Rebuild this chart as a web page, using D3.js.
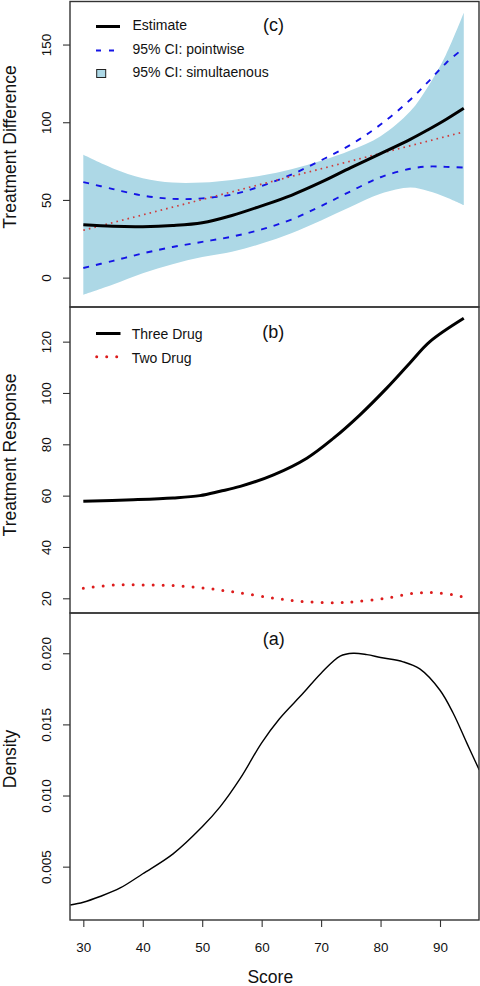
<!DOCTYPE html>
<html>
<head>
<meta charset="utf-8">
<script src="https://cdn.jsdelivr.net/npm/d3@7/dist/d3.min.js"></script>
<style>
  html, body { margin: 0; padding: 0; background: #fff; }
  svg { display: block; }
  text { font-family: "Liberation Sans", Arial, Helvetica, sans-serif; fill: #111; }
</style>
</head>
<body>
<svg id="chart" width="480" height="986"></svg>
<script>
// ---------------- DATA ----------------
// Panel (c): treatment difference vs score
const diffScores    = [30, 35, 40, 45, 50, 55, 60, 65, 70, 75, 80, 85, 88, 91, 94];
const diffEstimate  = [34, 33, 32.8, 33.5, 35.3, 40, 46.2, 53, 61.4, 70.8, 79.8, 89, 95.2, 101.8, 109];
const diffPwUpper   = [61.5, 57, 52.8, 50.7, 51, 53.5, 59, 66.3, 75.5, 85.6, 98.5, 114.5, 126, 138, 147.7];
const diffPwLower   = [6.2, 10.8, 15.6, 19.7, 23, 26.4, 31, 37.4, 46.1, 55.6, 64.6, 70.1, 71.5, 71.3, 70.8];
const diffSimUpper  = [79, 70.3, 64, 61.2, 61.2, 62.9, 65.7, 69.8, 75.2, 82, 91, 107, 123, 143.5, 170.5];
const diffSimLower  = [-11.1, -4.5, 2.8, 8.6, 13.2, 16.7, 21.9, 28.6, 36.8, 45.6, 54, 58, 55.8, 51.8, 46.7];
const linScores     = [30, 94];
const linValues     = [30.5, 93.8];
const diffTicks     = [0, 50, 100, 150];

// Panel (b): treatment response
const threeScores   = [30, 38.4, 45.1, 49.6, 53, 56.4, 62, 67.6, 72.1, 76.5, 81, 84.9, 88.3, 94];
const threeValues   = [57.8, 58.4, 59.1, 60, 61.7, 63.6, 68.1, 74.6, 82.4, 91.4, 101.8, 111.6, 120, 129.1];
const twoScores     = [30, 35.5, 40.7, 45.7, 50.7, 55.8, 62.2, 67.3, 72.3, 75.7, 80.8, 85.5, 88.9, 92.5, 94];
const twoValues     = [23.9, 25.2, 25.2, 24.9, 23.9, 22.3, 20, 18.7, 18.3, 18.7, 20, 21.9, 22.2, 21.3, 20.4];
const respTicks     = [20, 40, 60, 80, 100, 120];

// Panel (a): density of score
const densScores    = [27.8, 30, 32.8, 36.2, 40, 45.1, 50, 53, 56.4, 60, 63, 67, 70, 73.2, 75.4, 77.7, 80, 83.8, 86.6, 90, 92.2, 94.5, 96.6];
const densValues    = [0.0023, 0.0025, 0.0029, 0.0035, 0.0045, 0.0059, 0.0078, 0.0092, 0.0112, 0.0137, 0.0154, 0.0172, 0.0186, 0.0198, 0.0200, 0.0199, 0.0197, 0.0194, 0.0189, 0.0174, 0.0158, 0.0137, 0.0118];
const densTicks     = [0.005, 0.010, 0.015, 0.020];
const densTickLabels= ["0.005", "0.010", "0.015", "0.020"];

const scoreTicks    = [30, 40, 50, 60, 70, 80, 90];

// ---------------- LAYOUT ----------------
const svg = d3.select("#chart");
const L = 70, R = 479;
const panels = {
  c: { top: 1.5, bottom: 307 },
  b: { top: 307, bottom: 613 },
  a: { top: 613, bottom: 920 }
};
const frameColor = "#333";
const smooth = d3.curveCatmullRom.alpha(0.5);

const x = d3.scaleLinear().domain([27.76, 96.56]).range([L, R]);
const yC = d3.scaleLinear().domain([-18.9, 177.7]).range([panels.c.bottom, panels.c.top]);
const yB = d3.scaleLinear().domain([14.27, 133.5]).range([panels.b.bottom, panels.b.top]);
const yA = d3.scaleLinear().domain([0.00125, 0.02283]).range([panels.a.bottom, panels.a.top]);

const defs = svg.append("defs");
Object.entries(panels).forEach(([k, p]) => {
  defs.append("clipPath").attr("id", "clip-" + k)
    .append("rect").attr("x", L).attr("y", p.top).attr("width", R - L).attr("height", p.bottom - p.top);
});

function zip(xs, ys) { return xs.map((v, i) => [v, ys[i]]); }

function yAxis(scale, ticks, labels) {
  const ax = d3.axisLeft(scale).tickValues(ticks).tickSize(7).tickSizeOuter(0);
  if (labels) ax.tickFormat((d, i) => labels[i]); else ax.tickFormat(d3.format("d"));
  const g = svg.append("g").attr("transform", `translate(${L},0)`).call(ax);
  g.select(".domain").remove();
  g.selectAll(".tick line").attr("stroke", frameColor).attr("stroke-width", 1.1);
  g.selectAll(".tick text")
    .attr("x", null).attr("dy", null)
    .attr("transform", "translate(-19.3,0) rotate(-90)")
    .attr("text-anchor", "middle")
    .style("font-size", "13.4px")
    .style("font-family", '"Liberation Sans", Arial, Helvetica, sans-serif')
    .attr("fill", "#111");
  return g;
}

function yTitle(txt, cy) {
  svg.append("text")
    .attr("transform", `translate(16,${cy}) rotate(-90)`)
    .attr("text-anchor", "middle")
    .style("font-size", "17.5px")
    .text(txt);
}

// ---------------- PANEL (c) ----------------
const gC = svg.append("g").attr("clip-path", "url(#clip-c)");
const diffRows = diffScores.map((s, i) => ({ s, lo: diffSimLower[i], hi: diffSimUpper[i] }));
gC.append("path").datum(diffRows)
  .attr("fill", "#ADD8E6")
  .attr("d", d3.area().x(d => x(d.s)).y0(d => yC(d.lo)).y1(d => yC(d.hi)).curve(smooth));

const lineC = d3.line().x(d => x(d[0])).y(d => yC(d[1])).curve(smooth);
[diffPwUpper, diffPwLower].forEach(arr => {
  gC.append("path").datum(zip(diffScores, arr))
    .attr("fill", "none").attr("stroke", "#1414e6").attr("stroke-width", 1.9)
    .attr("stroke-dasharray", "6,7").attr("d", lineC);
});
gC.append("path").datum(zip(linScores, linValues))
  .attr("fill", "none").attr("stroke", "#cf3b3b").attr("stroke-width", 1.7)
  .attr("stroke-dasharray", "1.6,4.1").attr("d", d3.line().x(d => x(d[0])).y(d => yC(d[1])));
gC.append("path").datum(zip(diffScores, diffEstimate))
  .attr("fill", "none").attr("stroke", "#000").attr("stroke-width", 3)
  .attr("d", lineC);

yAxis(yC, diffTicks);
yTitle("Treatment Difference", 147);

// legend (c)
const legC = svg.append("g");
legC.append("line").attr("x1", 96).attr("x2", 120).attr("y1", 26.5).attr("y2", 26.5)
  .attr("stroke", "#000").attr("stroke-width", 3);
legC.append("line").attr("x1", 96).attr("x2", 120).attr("y1", 50.5).attr("y2", 50.5)
  .attr("stroke", "#1414e6").attr("stroke-width", 1.9).attr("stroke-dasharray", "5,8");
legC.append("rect").attr("x", 96.7).attr("y", 69.5).attr("width", 9).attr("height", 8)
  .attr("fill", "#ADD8E6").attr("stroke", "#222").attr("stroke-width", 1);
const legCLabels = ["Estimate", "95% CI: pointwise", "95% CI: simultaenous"];
const legCBase = [30, 53.5, 77];
legCLabels.forEach((t, i) => {
  legC.append("text").attr("x", 132.5).attr("y", legCBase[i]).style("font-size", "14px").text(t);
});
svg.append("text").attr("x", 273.5).attr("y", 31).attr("text-anchor", "middle")
  .style("font-size", "18px").text("(c)");

// ---------------- PANEL (b) ----------------
const gB = svg.append("g").attr("clip-path", "url(#clip-b)");
const lineB = d3.line().x(d => x(d[0])).y(d => yB(d[1])).curve(smooth);
gB.append("path").datum(zip(threeScores, threeValues))
  .attr("fill", "none").attr("stroke", "#000").attr("stroke-width", 3).attr("d", lineB);
gB.append("path").datum(zip(twoScores, twoValues))
  .attr("fill", "none").attr("stroke", "#dd1c1c").attr("stroke-width", 3)
  .attr("stroke-linecap", "round").attr("stroke-dasharray", "0,10").attr("d", lineB);

yAxis(yB, respTicks);
yTitle("Treatment Response", 455);

const legB = svg.append("g");
legB.append("line").attr("x1", 96).attr("x2", 120.5).attr("y1", 333.5).attr("y2", 333.5)
  .attr("stroke", "#000").attr("stroke-width", 3);
legB.append("line").attr("x1", 96.7).attr("x2", 120).attr("y1", 356.7).attr("y2", 356.7)
  .attr("stroke", "#dd1c1c").attr("stroke-width", 3).attr("stroke-linecap", "round")
  .attr("stroke-dasharray", "0,10");
const legBLabels = ["Three Drug", "Two Drug"];
const legBBase = [339, 362.5];
legBLabels.forEach((t, i) => {
  legB.append("text").attr("x", 131.7).attr("y", legBBase[i]).style("font-size", "14px").text(t);
});
svg.append("text").attr("x", 273.3).attr("y", 338).attr("text-anchor", "middle")
  .style("font-size", "18px").text("(b)");

// ---------------- PANEL (a) ----------------
const gA = svg.append("g").attr("clip-path", "url(#clip-a)");
gA.append("path").datum(zip(densScores, densValues))
  .attr("fill", "none").attr("stroke", "#000").attr("stroke-width", 1.4)
  .attr("d", d3.line().x(d => x(d[0])).y(d => yA(d[1])).curve(smooth));

yAxis(yA, densTicks, densTickLabels);
yTitle("Density", 759);
svg.append("text").attr("x", 273.8).attr("y", 645).attr("text-anchor", "middle")
  .style("font-size", "18px").text("(a)");

// x axis
const xAx = d3.axisBottom(x).tickValues(scoreTicks).tickSize(7).tickSizeOuter(0).tickFormat(d3.format("d"));
const gx = svg.append("g").attr("transform", `translate(0,${panels.a.bottom})`).call(xAx);
gx.select(".domain").remove();
gx.selectAll(".tick line").attr("stroke", frameColor).attr("stroke-width", 1.1);
gx.selectAll(".tick text").attr("y", 31.7).attr("dy", null)
  .style("font-size", "13.4px")
  .style("font-family", '"Liberation Sans", Arial, Helvetica, sans-serif')
  .attr("fill", "#111");
svg.append("text").attr("x", 270.3).attr("y", 983).attr("text-anchor", "middle")
  .style("font-size", "17.5px").text("Score");

// frames
Object.values(panels).forEach(p => {
  svg.append("rect").attr("x", L).attr("y", p.top).attr("width", R - L).attr("height", p.bottom - p.top)
    .attr("fill", "none").attr("stroke", frameColor).attr("stroke-width", 1.4);
});
</script>
</body>
</html>
